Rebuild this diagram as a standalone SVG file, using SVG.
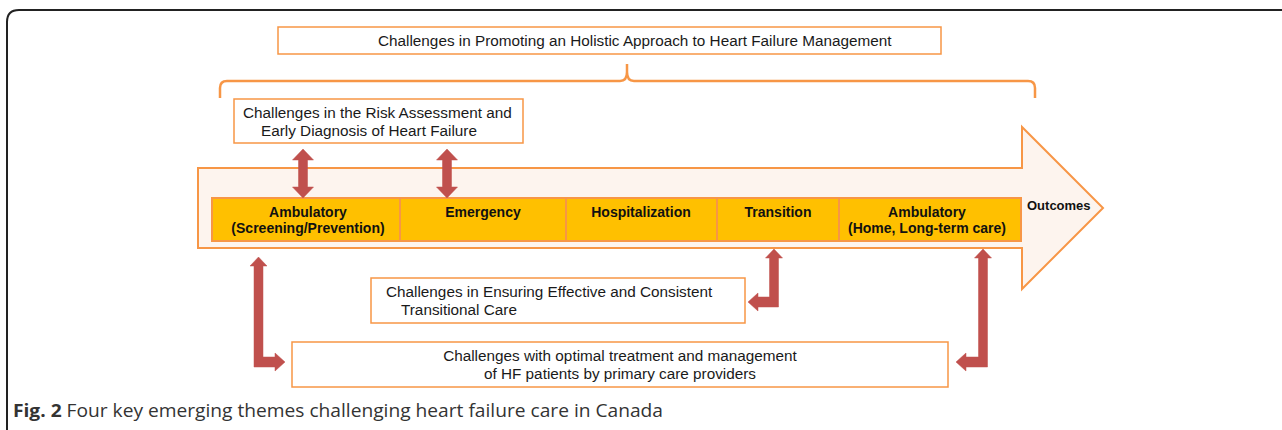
<svg xmlns="http://www.w3.org/2000/svg" width="1282" height="430" viewBox="0 0 1282 430">
<style>
.box{fill:#fff;stroke:#F79646;stroke-width:1.5}
.t{font-family:"Liberation Sans",Arial,sans-serif;font-size:15.3px;fill:#1a1a1a}
.b{font-family:"Liberation Sans",Arial,sans-serif;font-size:14px;font-weight:bold;fill:#111;text-anchor:middle}
.red{fill:#C0504D;stroke:#C0504D;stroke-width:0.5;stroke-linejoin:miter}
.cap{font-family:"Open Sans","Noto Sans",sans-serif;font-size:17.5px;fill:#333}
</style>
<rect width="1282" height="430" fill="#fff"/>
<path d="M7,440 L7,22 Q7,10 19,10 L1290,10" fill="none" stroke="#222" stroke-width="2"/>

<g id="holistic">
<rect class="box" x="278" y="27" width="663" height="27"/>
<text class="t" x="378" y="46">Challenges in Promoting an Holistic Approach to Heart Failure Management</text>
</g>
<path id="brace" d="M220,98 L220,88 Q220,81 227,81 L620,81 Q627,81 627,72 L627,64 L627,72 Q627,81 634,81 L1028,81 Q1035,81 1035,88 L1035,98" fill="none" stroke="#F79646" stroke-width="2.5"/>

<g id="risk">
<rect class="box" x="234" y="99" width="289" height="44"/>
<text class="t" x="243" y="118">Challenges in the Risk Assessment and</text>
<text class="t" x="261" y="136">Early Diagnosis of Heart Failure</text>
</g>

<g id="pathway">
<polygon points="198,168 1022,168 1022,127 1103,208 1022,289 1022,248 198,248" fill="#FDF4EE" stroke="#F79646" stroke-width="2"/>
<rect x="212" y="198" width="809" height="43" fill="#FFC000" stroke="#F79646" stroke-width="2"/>
<g stroke="#F79646" stroke-width="2">
<line x1="400" y1="198" x2="400" y2="241"/>
<line x1="566" y1="198" x2="566" y2="241"/>
<line x1="717" y1="198" x2="717" y2="241"/>
<line x1="839" y1="198" x2="839" y2="241"/>
</g>
<text class="b" x="308" y="217">Ambulatory</text>
<text class="b" x="308" y="233">(Screening/Prevention)</text>
<text class="b" x="483" y="217">Emergency</text>
<text class="b" x="641" y="217">Hospitalization</text>
<text class="b" x="778" y="217">Transition</text>
<text class="b" x="927" y="217">Ambulatory</text>
<text class="b" x="927" y="233">(Home, Long-term care)</text>
<text class="b" x="1027" y="210" style="text-anchor:start;font-size:13px">Outcomes</text>
</g>

<g id="transitional">
<rect class="box" x="371" y="278" width="374" height="45"/>
<text class="t" x="386" y="297">Challenges in Ensuring Effective and Consistent</text>
<text class="t" x="401" y="315">Transitional Care</text>
</g>

<g id="primary">
<rect class="box" x="292" y="342" width="656" height="45"/>
<text class="t" x="620" y="361" text-anchor="middle">Challenges with optimal treatment and management</text>
<text class="t" x="620" y="379" text-anchor="middle">of HF patients by primary care providers</text>
</g>

<g id="connectors">
<polygon class="red" points="303,149 313.5,160 307.5,160 307.5,187 313.5,187 303,198 292.5,187 298.5,187 298.5,160 292.5,160"/>
<polygon class="red" points="447,149 457.5,160 451.5,160 451.5,187 457.5,187 447,198 436.5,187 442.5,187 442.5,160 436.5,160"/>
<polygon class="red" points="258.5,257 267,266 263,266 263,357 275,357 275,353 285,362 275,371 275,367 254,367 254,266 250,266"/>
<polygon class="red" points="774,249 782.5,258 778.5,258 778.5,307 758,307 758,311 748,302 758,293 758,297 769.5,297 769.5,258 765.5,258"/>
<polygon class="red" points="983,249 991.5,258 987.5,258 987.5,367 966,367 966,371 956,362 966,353 966,357 978.5,357 978.5,258 974.5,258"/>
</g>

<text class="cap" x="13" y="417" textLength="650" lengthAdjust="spacingAndGlyphs"><tspan font-weight="bold">Fig. 2</tspan> Four key emerging themes challenging heart failure care in Canada</text>
</svg>
